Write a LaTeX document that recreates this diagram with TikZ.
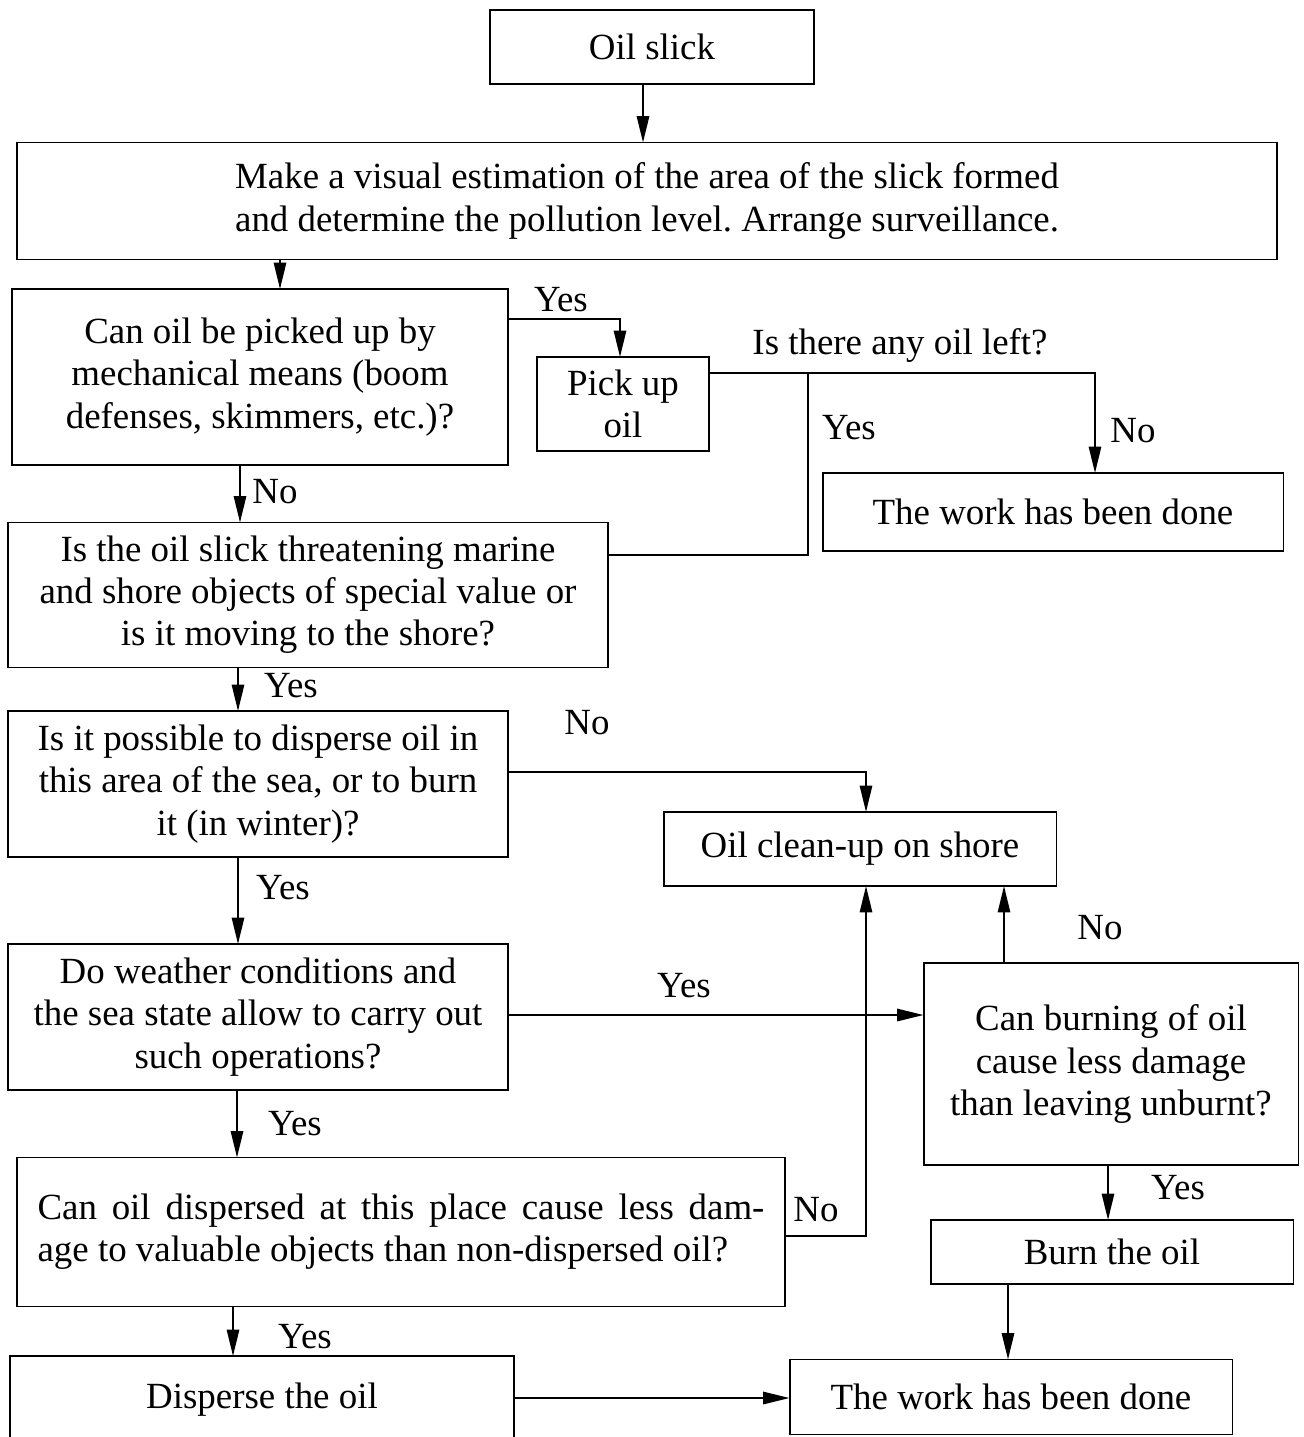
\documentclass[tikz,border=0pt]{standalone}
\usepackage{fontspec}
\setmainfont{Liberation Serif}
\usetikzlibrary{arrows.meta}
\frenchspacing

\begin{document}
\begin{tikzpicture}[x=0.02cm, y=-0.02cm, line width=1.1pt,
  every node/.style={font=\fontsize{21}{24}\selectfont},
  box/.style={draw, inner sep=0pt, outer sep=0pt, align=center},
  lbl/.style={inner sep=0pt},
  >={Triangle[length=15pt,width=7pt]}]
\useasboundingbox (0,0) rectangle (1303,1437);
\clip (0,0) rectangle (1303,1437);
% boxes
\node[box, minimum width=6.48cm, minimum height=1.48cm] (slick) at (652,47) {Oil slick};
\node[box, minimum width=25.22cm, minimum height=2.34cm] (visual) at (647,201) {Make a visual estimation of the area of the slick formed\\and determine the pollution level. Arrange surveillance.};
\node[box, minimum width=9.92cm, minimum height=3.52cm] (mech) at (260,377) {Can oil be picked up by\\mechanical means (boom\\defenses, skimmers, etc.)?};
\node[box, minimum width=3.44cm, minimum height=1.88cm] (pickup) at (623,404) {Pick up\\oil};
\node[box, minimum width=9.22cm, minimum height=1.56cm] (done1) at (1053,512) {The work has been done};
\node[box, minimum width=12cm, minimum height=2.9cm] (threat) at (308,595) {Is the oil slick threatening marine\\and shore objects of special value or\\is it moving to the shore?};
\node[box, minimum width=10.02cm, minimum height=2.92cm] (possible) at (258,784) {Is it possible to disperse oil in\\this area of the sea, or to burn\\it (in winter)?};
\node[box, minimum width=7.86cm, minimum height=1.48cm] (shore) at (860,849) {Oil clean-up on shore};
\node[box, minimum width=10cm, minimum height=2.92cm] (weather) at (258,1017) {Do weather conditions and\\the sea state allow to carry out\\such operations?};
\node[box, minimum width=7.5cm, minimum height=4.04cm] (burnq) at (1111,1064) {Can burning of oil\\cause less damage\\than leaving unburnt?};
\node[box, align=justify, text width=14.54cm, minimum width=15.36cm, minimum height=2.98cm] (dispq) at (401,1232) {Can oil dispersed at this place cause less dam-\linebreak age to valuable objects than non-dispersed oil?};
\node[box, minimum width=7.26cm, minimum height=1.28cm] (burn) at (1112,1252) {Burn the oil};
\node[box, minimum width=10.1cm, minimum height=1.76cm] (disperse) at (262,1400) {Disperse the oil};
\node[box, minimum width=8.86cm, minimum height=1.5cm] (done2) at (1011,1397) {The work has been done};
\coordinate (join) at (808,373);
% connectors
\draw[->] (slick.south -| 643,0) -- (visual.north -| 643,0);
\draw[->] (visual.south -| 280,0) -- (mech.north -| 280,0);
\draw[->] (mech.east |- 0,319) -| (pickup.north -| 620,0);
\draw[->] (pickup.east |- 0,373) -| (done1.north -| 1095,0);
\draw (threat.east |- 0,555) -| (join);
\draw[->] (mech.south -| 240,0) -- (threat.north -| 240,0);
\draw[->] (threat.south -| 238,0) -- (possible.north -| 238,0);
\draw[->] (possible.east |- 0,772) -| (shore.north -| 866,0);
\draw[->] (possible.south -| 238,0) -- (weather.north -| 238,0);
\draw[->] (weather.east |- 0,1015) -- (burnq.west |- 0,1015);
\draw[->] (burnq.north -| 1004,0) -- (shore.south -| 1004,0);
\draw[->] (weather.south -| 237,0) -- (dispq.north -| 237,0);
\draw[->] (dispq.east |- 0,1236) -| (shore.south -| 866,0);
\draw[->] (burnq.south -| 1108,0) -- (burn.north -| 1108,0);
\draw[->] (burn.south -| 1008,0) -- (done2.north -| 1008,0);
\draw[->] (dispq.south -| 233,0) -- (disperse.north -| 233,0);
\draw[->] (disperse.east |- 0,1398) -- (done2.west |- 0,1398);
% labels
\node[lbl] (yes1) at (561,300) {Yes};
\node[lbl] (left) at (900,345) {Is there any oil left?};
\node[lbl] (no1) at (1133,431) {No};
\node[lbl] (yes2) at (849,428) {Yes};
\node[lbl] (no2) at (275,492) {No};
\node[lbl] (yes3) at (291,686) {Yes};
\node[lbl] (no3) at (587,723) {No};
\node[lbl] (yes4) at (283,888) {Yes};
\node[lbl] (yes5) at (684,986) {Yes};
\node[lbl] (no4) at (1100,928) {No};
\node[lbl] (yes6) at (295,1124) {Yes};
\node[lbl] (no5) at (816,1210) {No};
\node[lbl] (yes7) at (1178,1188) {Yes};
\node[lbl] (yes8) at (305,1337) {Yes};
\end{tikzpicture}
\end{document}
